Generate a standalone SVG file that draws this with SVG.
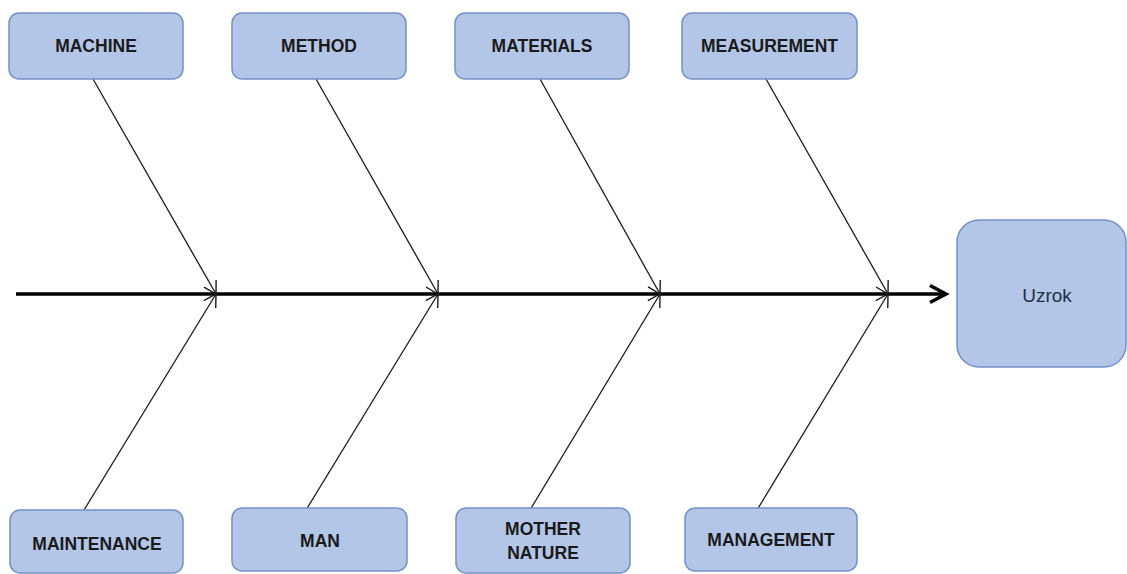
<svg xmlns="http://www.w3.org/2000/svg" width="1127" height="574" viewBox="0 0 1127 574">
<style>
.box{fill:#b4c6e7;stroke:#7491c6;stroke-width:1.5}
.lbl{font-family:"Liberation Sans",Arial,sans-serif;font-weight:bold;font-size:17.5px;fill:#1a1a1a;text-anchor:middle}
.bone{stroke:#1a1a1a;stroke-width:1.3;fill:none;marker-end:url(#tip)}
.spine{stroke:#000;stroke-width:3.5;fill:none;marker-end:url(#head)}
</style>
<defs>
<marker id="tip" markerUnits="userSpaceOnUse" viewBox="-14 -9 16 18" refX="0" refY="0" markerWidth="16" markerHeight="18" orient="auto" overflow="visible">
<path d="M-12,-7 L0,0 L-12,7" fill="none" stroke="#1a1a1a" stroke-width="1.4"/>
</marker>
<marker id="head" markerUnits="userSpaceOnUse" viewBox="-20 -12 22 24" refX="0" refY="0" markerWidth="22" markerHeight="24" orient="auto" overflow="visible">
<path d="M-16,-8.5 L0,0 L-16,8.5" fill="none" stroke="#000" stroke-width="3.5" stroke-linejoin="miter"/>
</marker>
</defs>
<rect width="1127" height="574" fill="#fff"/>
<g id="connectors">
<line class="spine" x1="16" y1="294" x2="946" y2="294"/>
<line class="bone" x1="93" y1="79" x2="216" y2="294"/>
<line class="bone" x1="316" y1="79" x2="438" y2="294"/>
<line class="bone" x1="540" y1="79" x2="660" y2="294"/>
<line class="bone" x1="766" y1="79" x2="888" y2="294"/>
<line class="bone" x1="84" y1="510" x2="216" y2="294"/>
<line class="bone" x1="306" y1="510" x2="438" y2="294"/>
<line class="bone" x1="530" y1="510" x2="660" y2="294"/>
<line class="bone" x1="757" y1="510" x2="888" y2="294"/>
</g>
<g id="machine"><rect class="box" x="9" y="13" width="174" height="66" rx="10"/><text class="lbl" x="96" y="52">MACHINE</text></g>
<g id="method"><rect class="box" x="232" y="13" width="174" height="66" rx="10"/><text class="lbl" x="319" y="52">METHOD</text></g>
<g id="materials"><rect class="box" x="455" y="13" width="174" height="66" rx="10"/><text class="lbl" x="542" y="52">MATERIALS</text></g>
<g id="measurement"><rect class="box" x="682" y="13" width="175" height="66" rx="10"/><text class="lbl" x="769.5" y="52">MEASUREMENT</text></g>
<g id="maintenance"><rect class="box" x="10" y="510" width="173" height="63" rx="10"/><text class="lbl" x="97" y="550">MAINTENANCE</text></g>
<g id="man"><rect class="box" x="232" y="508" width="175" height="63" rx="10"/><text class="lbl" x="320" y="547">MAN</text></g>
<g id="mother-nature"><rect class="box" x="456" y="508" width="174" height="65" rx="10"/><text class="lbl" x="543" y="535">MOTHER</text><text class="lbl" x="543" y="559">NATURE</text></g>
<g id="management"><rect class="box" x="685" y="508" width="172" height="63" rx="10"/><text class="lbl" x="771" y="546">MANAGEMENT</text></g>
<g id="uzrok"><rect class="box" x="957" y="220" width="169" height="147" rx="22"/><text x="1047" y="302" font-family="Liberation Sans, Arial, sans-serif" font-size="19" fill="#243045" text-anchor="middle">Uzrok</text></g>
</svg>
